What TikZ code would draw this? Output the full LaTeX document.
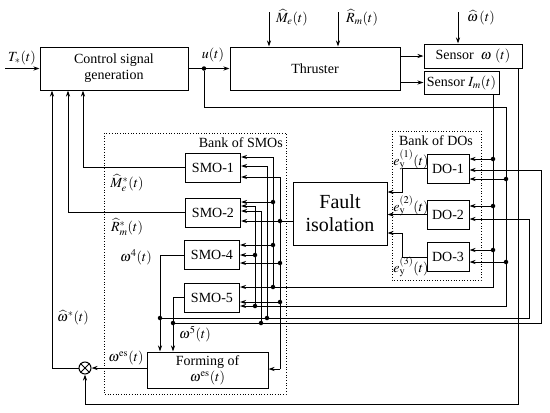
\documentclass[tikz,border=0pt]{standalone}
\usepackage{mathptmx}
\usepackage{fontspec}
\setmainfont{Liberation Serif}
\usetikzlibrary{arrows.meta, positioning}

\begin{document}
\begin{tikzpicture}[
    x=1pt, y=-1pt,
    every node/.style={font=\fontsize{14}{16}\selectfont, align=center},
    block/.style={rectangle, draw=black, line width=1pt, inner sep=1pt},
    obs/.style={block, minimum width=55pt, minimum height=29pt},
    dobox/.style={block, minimum width=42pt, minimum height=29pt},
    bank/.style={draw=black, dotted, line width=0.7pt},
    lab/.style={inner sep=0pt},
    wire/.style={line width=1pt},
    arrow/.style={wire, -{Stealth[length=6pt, width=4pt]}},
    dot/.style={circle, fill=black, inner sep=0pt, minimum size=4.5pt}
]
\useasboundingbox (0,0) rectangle (550,413);

% BANKS
\draw[bank] (104,133) rectangle (286,394);
\node[lab, anchor=east] (smolab) at (283,143) {Bank of SMOs};
\draw[bank] (392,131) rectangle (481,280);
\node[lab] (dolab) at (436,141) {Bank of DOs};

% NODES
\node[block, minimum width=148pt, minimum height=43pt] (csg) at (114,68.5) {Control signal\\generation};
\node[block, minimum width=170pt, minimum height=43pt] (thr) at (315,68.5) {Thruster};
\node[block, minimum width=98pt, minimum height=24pt] (sw) at (473,56) {Sensor\ \ $\omega$\ $(t)$};
\node[block, minimum width=75pt, minimum height=23pt] (si) at (461.5,82.5) {Sensor $I_m(t)$};

\node[obs] (smo1) at (213,167.5) {SMO-1};
\node[obs] (smo2) at (213,212.5) {SMO-2};
\node[obs] (smo4) at (212,255) {SMO-4};
\node[obs] (smo5) at (212,297.5) {SMO-5};
\node[block, minimum width=121pt, minimum height=36pt] (form) at (207.5,370) {Forming of\\$\omega^{\mathrm{es}}(t)$};
\node[block, minimum width=94pt, minimum height=63pt, font=\fontsize{20}{23}\selectfont] (fi) at (340,213.5) {Fault\\isolation};

\node[dobox] (do1) at (448,168.5) {DO-1};
\node[dobox] (do2) at (448,214.5) {DO-2};
\node[dobox] (do3) at (448,257) {DO-3};

\node[circle, draw, line width=1pt, minimum size=12pt, inner sep=0pt] (sum) at (85,368) {};
\draw[wire] (sum.north west) -- (sum.south east) (sum.north east) -- (sum.south west);

% DOTS AND BENDS
\node[dot] (du) at (204,68.5) {};
\coordinate (ubend) at (506,107);
\node[dot] (du1) at (506,179) {};
\node[dot] (du3) at (506,262) {};
\node[dot] (du5) at (255,306) {};
\node[dot] (du4) at (255,255) {};
\coordinate (u2) at (255,206);

\node[dot] (di1) at (493,159) {};
\node[dot] (di2) at (493,206) {};
\node[dot] (di3) at (493,250) {};
\node[dot] (dim5) at (273,287) {};
\node[dot] (dim4) at (273,245) {};
\node[dot] (dim2) at (273,202) {};
\coordinate (im1) at (273,157);

\node[dot] (df2) at (280,221) {};
\node[dot] (df4) at (280,263) {};
\node[dot] (df5) at (280,302) {};
\coordinate (f1) at (280,177);
\coordinate (fend) at (280,369);

\node[dot] (dw4) at (160,318) {};
\node[dot] (dw4b) at (267,318) {};
\coordinate (w4r) at (529,318);
\coordinate (w4d) at (529,219);
\coordinate (w4s) at (267,166);

\node[dot] (dw5) at (173,323) {};
\node[dot] (dw5b) at (261,323) {};
\coordinate (w5r) at (541,323);
\coordinate (w5d) at (541,170);
\coordinate (w5s) at (261,211);

\coordinate (e1) at (402,192);
\coordinate (e3) at (402,233);
\coordinate (wb) at (518,404);

\coordinate (tin) at (5,68.5);
\coordinate (mein) at (269,12);
\coordinate (rmin) at (338,12);
\coordinate (wsin) at (458,12);

% ARROWS
\draw[arrow] (tin) -- (csg);
\draw[wire] (csg) -- (du);
\draw[arrow] (du) -- (thr);
\draw[arrow] (mein) -- (mein |- thr.north);
\draw[arrow] (rmin) -- (rmin |- thr.north);
\draw[arrow] (wsin) -- (wsin |- sw.north);
\draw[arrow] (thr.east |- sw.west) -- (sw.west);
\draw[arrow] (thr.east |- si.west) -- (si.west);

% u(t)
\draw[wire] (du) |- (ubend) -- (du1) -- (du3) |- (du5);
\draw[arrow] (du1) -- (du1 -| do1.east);
\draw[arrow] (du3) -- (du3 -| do3.east);
\draw[arrow] (du5) -- (du5 -| smo5.east);
\draw[wire] (du5) -- (du4) -- (u2);
\draw[arrow] (u2) -- (u2 -| smo2.east);
\draw[arrow] (du4) -- (du4 -| smo4.east);

% I_m(t)
\draw[wire] (di1 |- si.south) -- (di1) -- (di2) -- (di3) |- (dim5);
\draw[arrow] (di1) -- (di1 -| do1.east);
\draw[arrow] (di2) -- (di2 -| do2.east);
\draw[arrow] (di3) -- (di3 -| do3.east);
\draw[arrow] (dim5) -- (dim5 -| smo5.east);
\draw[wire] (dim5) -- (dim4) -- (dim2) -- (im1);
\draw[arrow] (im1) -- (im1 -| smo1.east);
\draw[arrow] (dim2) -- (dim2 -| smo2.east);
\draw[arrow] (dim4) -- (dim4 -| smo4.east);

% fault isolation
\draw[wire] (fi.west |- df2) -- (df2);
\draw[arrow] (df2) -- (df2 -| smo2.east);
\draw[wire] (df2) -- (f1);
\draw[arrow] (f1) -- (f1 -| smo1.east);
\draw[wire] (df2) -- (df4) -- (df5) -- (fend);
\draw[arrow] (fend) -- (fend -| form.east);
\draw[arrow] (df4) -- (df4 -| smo4.east);
\draw[arrow] (df5) -- (df5 -| smo5.east);

% omega^4, omega^5
\draw[wire] (smo4.west) -| (dw4);
\draw[arrow] (dw4) -- (dw4 |- form.north);
\draw[wire] (dw4) -- (dw4b) -- (w4r) -- (w4d);
\draw[arrow] (w4d) -- (w4d -| do2.east);
\draw[wire] (dw4b) -- (w4s);
\draw[arrow] (w4s) -- (w4s -| smo1.east);
\draw[wire] (smo5.west) -| (dw5);
\draw[arrow] (dw5) -- (dw5 |- form.north);
\draw[wire] (dw5) -- (dw5b) -- (w5r) -- (w5d);
\draw[arrow] (w5d) -- (w5d -| do1.east);
\draw[wire] (dw5b) -- (w5s);
\draw[arrow] (w5s) -- (w5s -| smo2.east);

% residuals
\draw[arrow] (do1.west) -| (e1) -- (e1 -| fi.east);
\draw[arrow] (do2.west) -- (do2.west -| fi.east);
\draw[arrow] (do3.west) -| (e3) -- (e3 -| fi.east);

% outputs
\draw[arrow] (smo1.west) -| ([xshift=-31pt]csg.south);
\draw[arrow] (smo2.west) -| ([xshift=-46pt]csg.south);
\draw[arrow] (sum.west) -| ([xshift=-62pt]csg.south);
\draw[arrow] (form.west |- sum) -- (sum.east);
\draw[arrow] (sw.south -| wb) -- (wb) -| (sum.south);

% LABELS
\node[lab] (tlab) at (22,58) {$T_*(t)$};
\node[lab] (ulab) at (213,55) {$u(t)$};
\node[lab] (melab) at (292,18) {$\widehat{M}_e(t)$};
\node[lab] (rmlab) at (362,18) {$\widehat{R}_m(t)$};
\node[lab] (wslab) at (481,18) {$\widehat{\omega}\,(t)$};
\node[lab] (me2lab) at (127,183) {$\widehat{M}_e^*(t)$};
\node[lab] (rm2lab) at (127,227) {$\widehat{R}_m^*(t)$};
\node[lab] (w4lab) at (136,257) {$\omega^4(t)$};
\node[lab] (w5lab) at (195,334) {$\omega^5(t)$};
\node[lab] (weslab) at (126,358) {$\omega^{\mathrm{es}}(t)$};
\node[lab] (wstlab) at (73,318) {$\widehat{\omega}^*(t)$};
\node[lab] (e1lab) at (411,160) {$e_{\mathrm{y}}^{(1)}(t)$};
\node[lab] (e2lab) at (411,206) {$e_{\mathrm{y}}^{(2)}(t)$};
\node[lab] (e3lab) at (411,267) {$e_{\mathrm{y}}^{(3)}(t)$};

\end{tikzpicture}
\end{document}
